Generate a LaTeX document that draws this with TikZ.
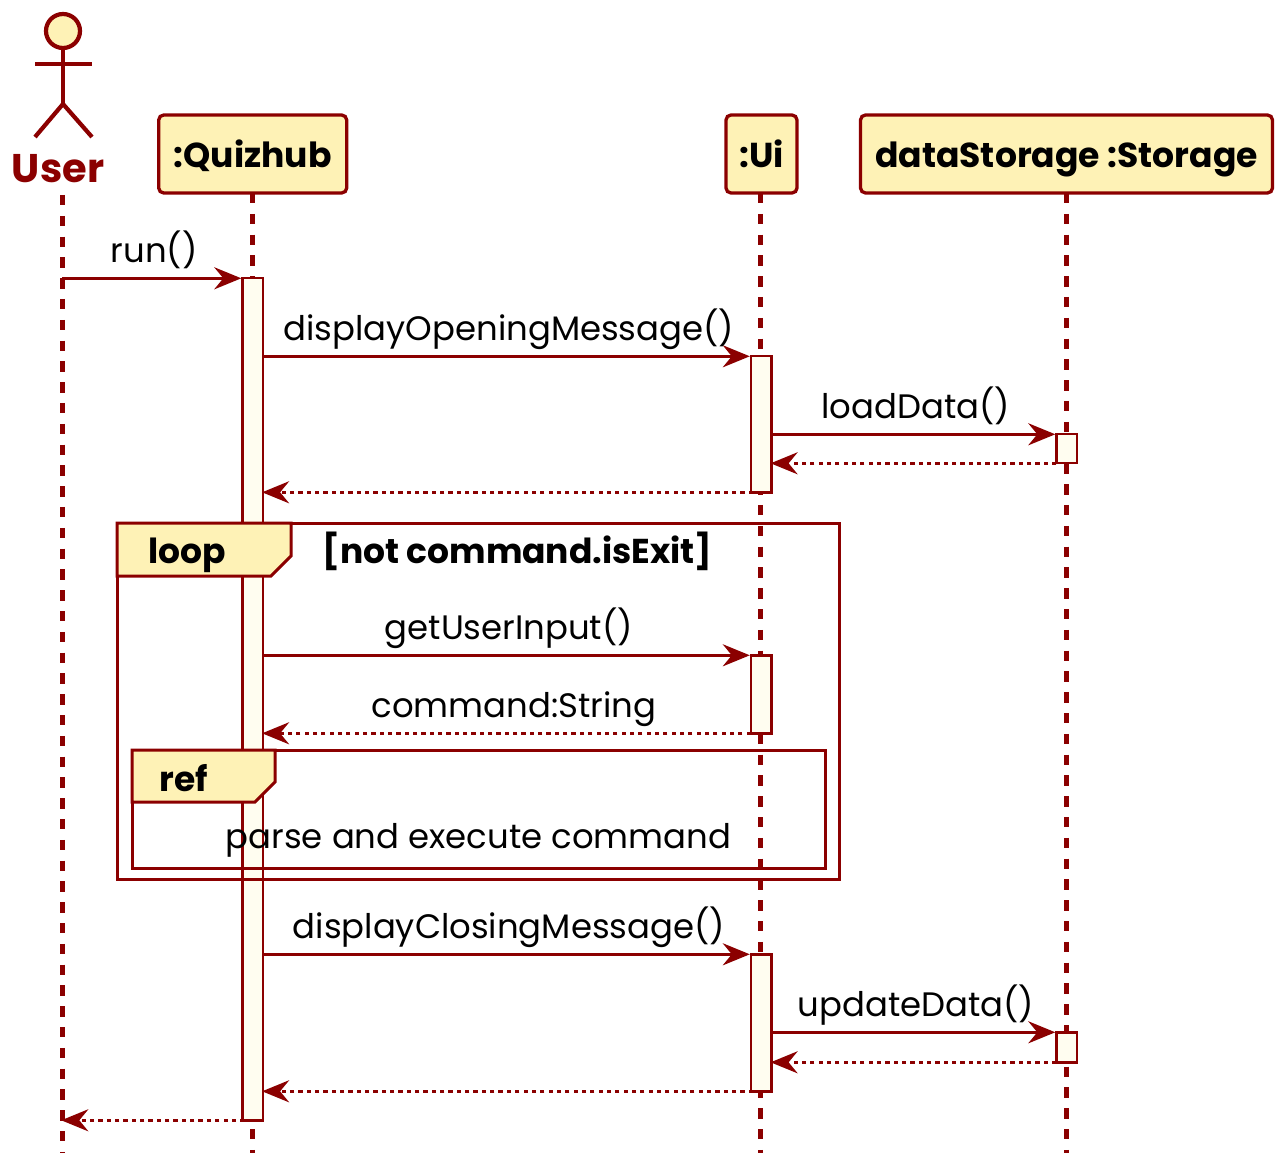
\documentclass[tikz,border=0pt]{standalone}
\usepackage{fontspec}
\setmainfont{Poppins}
\usetikzlibrary{arrows.meta,shapes.misc,positioning}
\definecolor{seqline}{HTML}{8B0000}
\definecolor{seqhead}{HTML}{FEF2B6}
\definecolor{seqbar}{HTML}{FFFDF0}

\begin{document}
\begin{tikzpicture}[x=1pt,y=-1pt]
	\tikzstyle{head} = [
		rectangle,
		rounded corners=5pt,
		draw=seqline,
		fill=seqhead,
		line width=3.3pt,
		inner sep=0pt,
		outer sep=0pt,
		minimum height=78pt,
		text height=30pt,
		text depth=2pt,
		font=\fontsize{34.6}{34.6}\selectfont\bfseries
	]
	\tikzstyle{bar} = [
		rectangle,
		draw=seqline,
		fill=seqbar,
		line width=2.4pt,
		inner sep=0pt,
		outer sep=0pt,
		minimum width=20.8pt
	]
	\tikzstyle{lifeline} = [draw=seqline, line width=4.6pt, dash pattern=on 10.4pt off 10.4pt]
	\tikzstyle{stick} = [draw=seqline, line width=4.2pt]
	\tikzstyle{msg} = [draw=seqline, line width=3pt, -{Stealth[length=27pt,width=22pt,inset=9pt]}, shorten >=1pt]
	\tikzstyle{ret} = [msg, dash pattern=on 4.17pt off 4.17pt, shorten >=-1pt]
	\tikzstyle{msglabel} = [midway, anchor=base, yshift=16pt, xshift=2pt, inner sep=0pt, text=black, font=\fontsize{33.9}{33.9}\selectfont]
	\tikzstyle{frameline} = [draw=seqline, line width=3pt]
	\tikzstyle{frametab} = [frameline, fill=seqhead]
	\tikzstyle{frametitle} = [inner sep=0pt, anchor=base, font=\fontsize{34.5}{34.5}\selectfont\bfseries]

	\useasboundingbox (0,0) rectangle (1283,1155);

	\node (userhead) [circle, draw=seqline, fill=seqhead, line width=4.2pt, inner sep=0pt, outer sep=0pt, minimum size=34pt] at (63,31) {};
	\coordinate (userhip) at (63,104);
	\coordinate (armleft) at (35,64);
	\coordinate (armright) at (92,64);
	\coordinate (legleft) at (35,137);
	\coordinate (legright) at (92,137);
	\draw [stick] (userhead.south) -- (userhip);
	\draw [stick] (armleft) -- (armright);
	\draw [stick] (legleft) -- (userhip) -- (legright);
	\node (username) [inner sep=0pt, anchor=base, text=seqline, font=\fontsize{40}{40}\selectfont\bfseries] at (58,183) {User};

	\coordinate (userstart) at (62.3,195);
	\coordinate (userend) at (62.3,1153);
	\coordinate (hubend) at (252.5,1153);
	\coordinate (uiend) at (760.5,1153);
	\coordinate (storageend) at (1066.5,1153);

	\node (quizhub) [style=head, minimum width=188pt] at (252.7,154) {:Quizhub};
	\node (ui) [style=head, minimum width=71pt] at (761.5,154) {:Ui};
	\node (storage) [style=head, minimum width=412pt] at (1066.5,154) {dataStorage :Storage};

	\draw [lifeline] (userstart) -- (userend);
	\draw [lifeline] (quizhub.south -| hubend) -- (hubend);
	\draw [lifeline] (ui.south -| uiend) -- (uiend);
	\draw [lifeline] (storage.south -| storageend) -- (storageend);

	\node (hubbar) [style=bar, minimum height=842pt] at (252.7,699.3) {};
	\node (uibara) [style=bar, minimum height=136pt] at (761.2,424.3) {};
	\node (uibarb) [style=bar, minimum height=78pt] at (761.2,694.3) {};
	\node (uibarc) [style=bar, minimum height=137pt] at (761.2,1022.8) {};
	\node (storagebara) [style=bar, minimum height=29pt] at (1066.7,448.8) {};
	\node (storagebarb) [style=bar, minimum height=30pt] at (1066.7,1047.3) {};

	\node (loopframe) [frameline, rectangle, inner sep=0pt, outer sep=0pt, minimum width=722pt, minimum height=356pt] at (478,701) {};
	\draw [frametab] (loopframe.north west) -- (291,523) -- (291,556) -- (271,576) -- (117,576) -- cycle;
	\node (looptitle) [style=frametitle] at (187.5,563) {loop};
	\node (loopguard) [style=frametitle] at (517.5,563) {[not command.isExit]};

	\node (refframe) [frameline, rectangle, inner sep=0pt, outer sep=0pt, minimum width=693pt, minimum height=118pt] at (478.5,809) {};
	\draw [frametab] (refframe.north west) -- (275,750) -- (275,782) -- (255,802) -- (132,802) -- cycle;
	\node (reftitle) [style=frametitle] at (183.5,791) {ref};
	\node (reftext) [inner sep=0pt, anchor=base, font=\fontsize{33.9}{33.9}\selectfont] at (478.5,848) {parse and execute command};

	\draw [msg] (userstart |- hubbar.north) -- (hubbar.north west) node [style=msglabel] {run()};
	\draw [msg] (hubbar.east |- uibara.north) -- (uibara.north west) node [style=msglabel] {displayOpeningMessage()};
	\draw [msg] (uibara.east |- storagebara.north) -- (storagebara.north west) node [style=msglabel] {loadData()};
	\draw [ret] (storagebara.south west) -- (uibara.east |- storagebara.south);
	\draw [ret] (uibara.south) -- (hubbar.east |- uibara.south);
	\draw [msg] (hubbar.east |- uibarb.north) -- (uibarb.north west) node [style=msglabel] {getUserInput()};
	\draw [ret] (uibarb.south west) -- (hubbar.east |- uibarb.south) node [style=msglabel, xshift=5pt] {command:String};
	\draw [msg] (hubbar.east |- uibarc.north) -- (uibarc.north west) node [style=msglabel] {displayClosingMessage()};
	\draw [msg] (uibarc.east |- storagebarb.north) -- (storagebarb.north west) node [style=msglabel] {updateData()};
	\draw [ret] (storagebarb.south west) -- (uibarc.east |- storagebarb.south);
	\draw [ret] (uibarc.south) -- (hubbar.east |- uibarc.south);
	\draw [ret] (hubbar.south) -- (userend |- hubbar.south);
\end{tikzpicture}
\end{document}
